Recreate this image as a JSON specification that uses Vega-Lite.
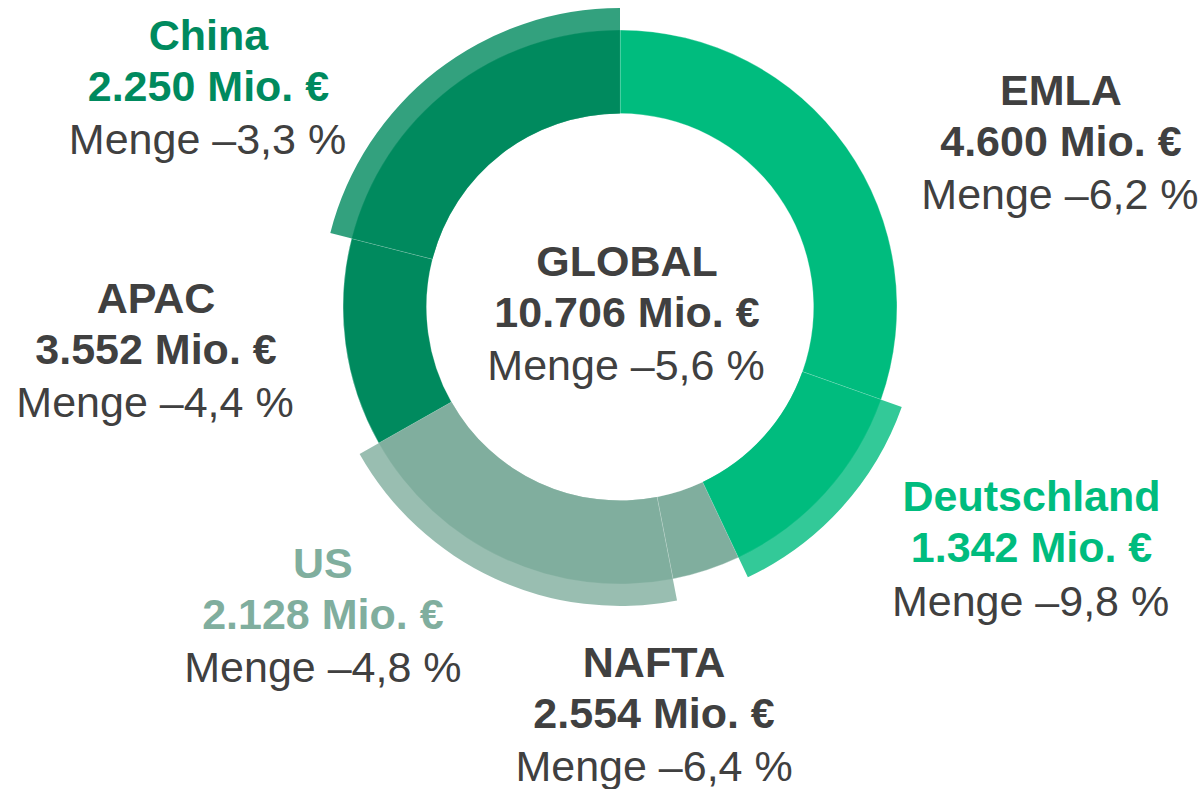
{
  "$schema": "https://vega.github.io/schema/vega-lite/v6.json",
  "autosize": {"type": "none"},
  "padding": {"left": 36, "top": 0, "right": 0, "bottom": 175},
  "width": 1168,
  "height": 614,
  "background": "#ffffff",
  "config": {
    "view": {"stroke": null},
    "text": {"font": "Liberation Sans", "fontSize": 43, "align": "center", "baseline": "middle", "lineHeight": 51}
  },
  "datasets": {
    "segments": [
      {"segment": "EMLA", "value": 3258, "order": 1, "type": "Region", "name": "EMLA", "amount": "4.600 Mio. €", "change": "Menge –6,2 %"},
      {"segment": "Deutschland", "value": 1342, "order": 2, "type": "Land", "name": "Deutschland", "amount": "1.342 Mio. €", "change": "Menge –9,8 %"},
      {"segment": "NAFTA", "value": 426, "order": 3, "type": "Region", "name": "NAFTA", "amount": "2.554 Mio. €", "change": "Menge –6,4 %"},
      {"segment": "US", "value": 2128, "order": 4, "type": "Land", "name": "US", "amount": "2.128 Mio. €", "change": "Menge –4,8 %"},
      {"segment": "APAC", "value": 1302, "order": 5, "type": "Region", "name": "APAC", "amount": "3.552 Mio. €", "change": "Menge –4,4 %"},
      {"segment": "China", "value": 2250, "order": 6, "type": "Land", "name": "China", "amount": "2.250 Mio. €", "change": "Menge –3,3 %"}
    ],
    "global": [
      {"name": "GLOBAL", "amount": "10.706 Mio. €", "change": "Menge –5,6 %"}
    ]
  },
  "data": {"name": "segments"},
  "transform": [{"calculate": "[datum.name, datum.amount]", "as": "head"}],
  "layer": [
    {
      "mark": {"type": "arc", "radius": 277, "radius2": 193.5, "stroke": "#ffffff", "strokeWidth": 0.5, "strokeOpacity": 0.6},
      "encoding": {
        "theta": {"field": "value", "type": "quantitative", "stack": true},
        "order": {"field": "order", "type": "quantitative"},
        "color": {"field": "segment", "type": "nominal", "legend": null,
          "scale": {"domain": ["EMLA", "Deutschland", "NAFTA", "US", "APAC", "China"],
                    "range": ["#00BC7E", "#00BC7E", "#80AE9E", "#80AE9E", "#008A5E", "#008A5E"]}}
      }
    },
    {
      "mark": {"type": "arc", "radius": 299, "radius2": 193.5},
      "encoding": {
        "theta": {"field": "value", "type": "quantitative", "stack": true},
        "order": {"field": "order", "type": "quantitative"},
        "color": {"field": "segment", "type": "nominal", "legend": null},
        "opacity": {"condition": {"test": "datum.type === 'Land'", "value": 0.8}, "value": 0}
      }
    },
    {
      "mark": {"type": "text", "radius": 470, "dx": 57, "dy": 56, "fontWeight": "bold", "color": "#404040"},
      "encoding": {
        "theta": {"field": "value", "type": "quantitative", "stack": true},
        "order": {"field": "order", "type": "quantitative"},
        "text": {"condition": {"test": "datum.segment === 'EMLA'", "field": "head", "type": "nominal"}, "value": ""}
      }
    },
    {
      "mark": {"type": "text", "radius": 470, "dx": 56, "dy": 160, "color": "#404040"},
      "encoding": {
        "theta": {"field": "value", "type": "quantitative", "stack": true},
        "order": {"field": "order", "type": "quantitative"},
        "text": {"condition": {"test": "datum.segment === 'EMLA'", "field": "change", "type": "nominal"}, "value": ""}
      }
    },
    {
      "mark": {"type": "text", "radius": 451, "dx": 77, "dy": -111.5, "fontWeight": "bold", "color": "#00BC7E"},
      "encoding": {
        "theta": {"field": "value", "type": "quantitative", "stack": true},
        "order": {"field": "order", "type": "quantitative"},
        "text": {"condition": {"test": "datum.segment === 'Deutschland'", "field": "head", "type": "nominal"}, "value": ""}
      }
    },
    {
      "mark": {"type": "text", "radius": 451, "dx": 76, "dy": -6, "color": "#404040"},
      "encoding": {
        "theta": {"field": "value", "type": "quantitative", "stack": true},
        "order": {"field": "order", "type": "quantitative"},
        "text": {"condition": {"test": "datum.segment === 'Deutschland'", "field": "change", "type": "nominal"}, "value": ""}
      }
    },
    {
      "mark": {"type": "text", "radius": 374, "dx": -82.5, "dy": 1.5, "fontWeight": "bold", "color": "#404040"},
      "encoding": {
        "theta": {"field": "value", "type": "quantitative", "stack": true},
        "order": {"field": "order", "type": "quantitative"},
        "text": {"condition": {"test": "datum.segment === 'NAFTA'", "field": "head", "type": "nominal"}, "value": ""}
      }
    },
    {
      "mark": {"type": "text", "radius": 374, "dx": -82.5, "dy": 105.5, "color": "#404040"},
      "encoding": {
        "theta": {"field": "value", "type": "quantitative", "stack": true},
        "order": {"field": "order", "type": "quantitative"},
        "text": {"condition": {"test": "datum.segment === 'NAFTA'", "field": "change", "type": "nominal"}, "value": ""}
      }
    },
    {
      "mark": {"type": "text", "radius": 382, "dx": -137, "dy": -88.5, "fontWeight": "bold", "color": "#80AE9E"},
      "encoding": {
        "theta": {"field": "value", "type": "quantitative", "stack": true},
        "order": {"field": "order", "type": "quantitative"},
        "text": {"condition": {"test": "datum.segment === 'US'", "field": "head", "type": "nominal"}, "value": ""}
      }
    },
    {
      "mark": {"type": "text", "radius": 382, "dx": -137, "dy": 15.5, "color": "#404040"},
      "encoding": {
        "theta": {"field": "value", "type": "quantitative", "stack": true},
        "order": {"field": "order", "type": "quantitative"},
        "text": {"condition": {"test": "datum.segment === 'US'", "field": "change", "type": "nominal"}, "value": ""}
      }
    },
    {
      "mark": {"type": "text", "radius": 462, "dx": -6, "dy": -67.5, "fontWeight": "bold", "color": "#404040"},
      "encoding": {
        "theta": {"field": "value", "type": "quantitative", "stack": true},
        "order": {"field": "order", "type": "quantitative"},
        "text": {"condition": {"test": "datum.segment === 'APAC'", "field": "head", "type": "nominal"}, "value": ""}
      }
    },
    {
      "mark": {"type": "text", "radius": 462, "dx": -7, "dy": 36.5, "color": "#404040"},
      "encoding": {
        "theta": {"field": "value", "type": "quantitative", "stack": true},
        "order": {"field": "order", "type": "quantitative"},
        "text": {"condition": {"test": "datum.segment === 'APAC'", "field": "change", "type": "nominal"}, "value": ""}
      }
    },
    {
      "mark": {"type": "text", "radius": 446, "dx": -138, "dy": 82.5, "fontWeight": "bold", "color": "#008A5E"},
      "encoding": {
        "theta": {"field": "value", "type": "quantitative", "stack": true},
        "order": {"field": "order", "type": "quantitative"},
        "text": {"condition": {"test": "datum.segment === 'China'", "field": "head", "type": "nominal"}, "value": ""}
      }
    },
    {
      "mark": {"type": "text", "radius": 446, "dx": -139, "dy": 186.5, "color": "#404040"},
      "encoding": {
        "theta": {"field": "value", "type": "quantitative", "stack": true},
        "order": {"field": "order", "type": "quantitative"},
        "text": {"condition": {"test": "datum.segment === 'China'", "field": "change", "type": "nominal"}, "value": ""}
      }
    },
    {
      "data": {"name": "global"},
      "transform": [{"calculate": "[datum.name, datum.amount]", "as": "head"}],
      "mark": {"type": "text", "dx": 7, "dy": -44, "fontWeight": "bold", "color": "#404040"},
      "encoding": {"text": {"field": "head", "type": "nominal"}}
    },
    {
      "data": {"name": "global"},
      "mark": {"type": "text", "dx": 6, "dy": 60, "color": "#404040"},
      "encoding": {"text": {"field": "change", "type": "nominal"}}
    }
  ]
}
